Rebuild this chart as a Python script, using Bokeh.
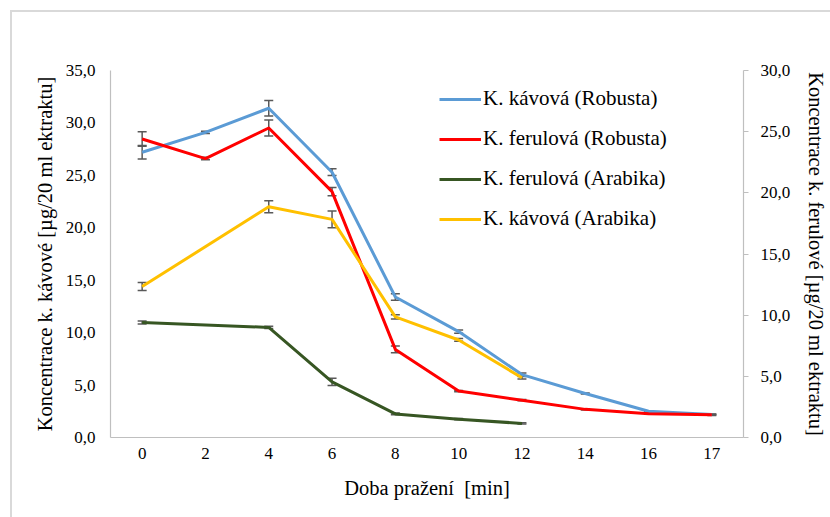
from bokeh.plotting import figure
from bokeh.models import (FactorRange, Range1d, LinearAxis, FixedTicker,
                          CustomJSTickFormatter, ColumnDataSource, Whisker, TeeHead,
                          Legend, LegendItem, InlineStyleSheet)
from bokeh.embed import file_html
from bokeh.resources import INLINE

# Roasting time [min]
minutes = ["0", "2", "4", "6", "8", "10", "12", "14", "16", "17"]
minutes_arabika = ["0", "4", "6", "8", "10", "12"]

# Caffeic acid, Robusta (left axis)
caffeic_robusta = [27.2, 29.1, 31.4, 25.3, 13.4, 10.1, 6.0, 4.2, 2.5, 2.2]
caffeic_robusta_err = [0.65, 0.1, 0.75, 0.32, 0.3, 0.16, 0.15, 0.05, 0.05, 0.05]

# Ferulic acid, Robusta (right axis)
ferulic_robusta = [24.4, 22.8, 25.3, 20.1, 7.2, 3.8, 3.05, 2.3, 1.95, 1.85]
ferulic_robusta_err = [0.6, 0.1, 0.65, 0.33, 0.27, 0.05, 0.05, 0.05, 0.05, 0.05]

# Ferulic acid, Arabika (right axis)
ferulic_arabika = [9.4, 9.0, 4.55, 1.93, 1.5, 1.15]
ferulic_arabika_err = [0.12, 0.1, 0.3, 0.08, 0.05, 0.05]

# Caffeic acid, Arabika (left axis)
caffeic_arabika = [14.4, 22.0, 20.8, 11.5, 9.3, 5.7]
caffeic_arabika_err = [0.38, 0.57, 0.8, 0.2, 0.13, 0.12]

left_ticks = [0, 5, 10, 15, 20, 25, 30, 35]
right_ticks = [0, 5, 10, 15, 20, 25, 30]

SERIF = "Liberation Serif"
AXIS_GREY = "#bfbfbf"
ERR_GREY = "#595959"

# light border around the chart area
chart_border = InlineStyleSheet(css="""
:host { position: relative; }
:host::after {
  content: "";
  position: absolute;
  left: 10px; top: 10px; right: -20px; bottom: -20px;
  border: 2px solid #d9d9d9;
  pointer-events: none;
}
""")

p = figure(width=830, height=517, output_backend="svg", toolbar_location=None,
           x_range=FactorRange(factors=minutes, range_padding=0),
           y_range=Range1d(0, 35),
           min_border_left=110, min_border_right=87,
           min_border_top=70, min_border_bottom=80,
           stylesheets=[chart_border])
p.extra_y_ranges = {"fer": Range1d(0, 30)}
p.outline_line_color = None
p.xgrid.grid_line_color = None
p.ygrid.grid_line_color = None

fmt = CustomJSTickFormatter(code="return tick.toFixed(1).replace('.', ',');")

# left axis
ya = p.yaxis[0]
ya.ticker = FixedTicker(ticks=left_ticks)
ya.formatter = fmt
ya.axis_label = "Koncentrace k. kávové [µg/20 ml ektraktu]"
ya.major_tick_out = 0
ya.major_tick_in = 0
ya.minor_tick_out = 0
ya.minor_tick_in = 0
ya.major_label_standoff = 15
ya.axis_label_standoff = 7

# right axis
yr = LinearAxis(y_range_name="fer", ticker=FixedTicker(ticks=right_ticks),
                formatter=fmt,
                axis_label="Koncentrace k. ferulové [µg/20 ml ektraktu]")
yr.major_tick_out = 5
yr.major_tick_in = 0
yr.minor_tick_out = 0
yr.minor_tick_in = 0
yr.major_label_standoff = 12
yr.axis_label_standoff = 12
p.add_layout(yr, "right")

xa = p.xaxis[0]
xa.axis_label = "Doba pražení\u00a0 [min]"
xa.major_tick_out = 0
xa.major_tick_in = 0
xa.minor_tick_out = 0
xa.major_label_standoff = 10
xa.axis_label_standoff = 15

for ax in (xa, ya, yr):
    ax.axis_line_color = AXIS_GREY
    ax.axis_line_width = 1.2
    ax.major_tick_line_color = AXIS_GREY
    ax.major_label_text_font = SERIF
    ax.major_label_text_font_size = "17px"
    ax.major_label_text_color = "#000000"
    ax.axis_label_text_font = SERIF
    ax.axis_label_text_font_size = "20.5px"
    ax.axis_label_text_font_style = "normal"
    ax.axis_label_text_color = "#000000"

series = [
    ("K. kávová (Robusta)", minutes, caffeic_robusta, caffeic_robusta_err, "#5B9BD5", "default"),
    ("K. ferulová (Robusta)", minutes, ferulic_robusta, ferulic_robusta_err, "#FF0000", "fer"),
    ("K. ferulová (Arabika)", minutes_arabika, ferulic_arabika, ferulic_arabika_err, "#375623", "fer"),
    ("K. kávová (Arabika)", minutes_arabika, caffeic_arabika, caffeic_arabika_err, "#FFC000", "default"),
]

items = []
for name, xs, ys, errs, color, rng in series:
    src = ColumnDataSource(data=dict(
        x=xs, y=ys,
        upper=[v + e for v, e in zip(ys, errs)],
        lower=[v - e for v, e in zip(ys, errs)],
    ))
    r = p.line("x", "y", source=src, line_color=color, line_width=3,
               y_range_name=rng, line_join="round")
    items.append(LegendItem(label=name, renderers=[r]))
    w = Whisker(base="x", upper="upper", lower="lower", source=src,
                y_range_name=rng, line_color=ERR_GREY, line_width=1.5,
                upper_head=TeeHead(size=9, line_color=ERR_GREY, line_width=1.5),
                lower_head=TeeHead(size=9, line_color=ERR_GREY, line_width=1.5))
    p.add_layout(w)

legend = Legend(items=items, location=(329, 206), orientation="vertical",
                border_line_color=None, background_fill_alpha=0,
                padding=0, margin=0, spacing=15,
                glyph_width=42, glyph_height=24, label_height=24,
                label_standoff=2,
                label_text_font=SERIF, label_text_font_size="21px",
                label_text_color="#000000")
p.add_layout(legend)

open("out.html", "w").write(file_html(p, INLINE))
